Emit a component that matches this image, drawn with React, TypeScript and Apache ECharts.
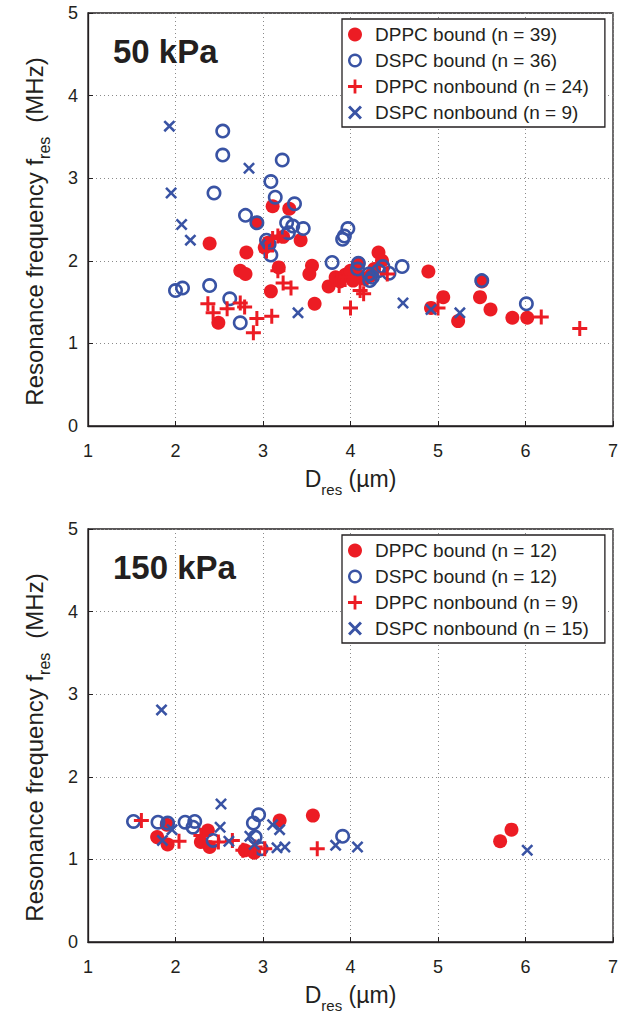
import React, { useEffect, useRef } from 'react';
import * as echarts from 'echarts';

// ---------- data (D_res in µm, f_res in MHz) ----------
const xTicks = [1, 2, 3, 4, 5, 6, 7];
const yTicks = [0, 1, 2, 3, 4, 5];

const panelTitles = ['50 kPa', '150 kPa'];

const names50 = [
  'DPPC bound (n = 39)',
  'DSPC bound (n = 36)',
  'DPPC nonbound (n = 24)',
  'DSPC nonbound (n = 9)',
];
const names150 = [
  'DPPC bound (n = 12)',
  'DSPC bound (n = 12)',
  'DPPC nonbound (n = 9)',
  'DSPC nonbound (n = 15)',
];

const dppcBound50 = [
  [2.39, 2.21], [2.81, 2.10], [2.74, 1.88], [2.80, 1.84], [2.49, 1.25], [2.93, 2.46],
  [3.11, 2.66], [3.30, 2.63], [3.02, 2.16], [3.23, 2.29], [3.43, 2.25], [3.18, 1.92],
  [3.09, 1.63], [3.56, 1.94], [3.53, 1.84], [3.59, 1.48], [3.75, 1.69], [3.94, 1.83],
  [4.08, 1.82], [4.09, 1.97], [4.32, 2.10], [4.36, 2.00], [4.23, 1.82], [4.89, 1.87],
  [5.06, 1.56], [4.92, 1.43], [5.23, 1.27], [5.50, 1.75], [5.48, 1.56], [5.60, 1.41],
  [5.85, 1.31], [6.02, 1.31], [3.06, 2.22], [3.83, 1.80], [4.00, 1.88], [4.16, 1.78],
  [4.27, 1.90], [3.88, 1.75], [4.03, 1.76],
];
const dspcBound50 = [
  [2.54, 3.57], [2.54, 3.28], [2.44, 2.82], [3.22, 3.22], [3.09, 2.96], [3.14, 2.77],
  [3.36, 2.69], [2.80, 2.55], [2.93, 2.46], [3.27, 2.46], [3.29, 2.34], [3.46, 2.39],
  [3.04, 2.25], [3.09, 2.07], [3.97, 2.39], [3.91, 2.26], [3.79, 1.98], [4.09, 1.97],
  [4.21, 1.84], [2.00, 1.64], [2.08, 1.67], [2.39, 1.70], [2.62, 1.54], [2.74, 1.25],
  [4.22, 1.76], [4.37, 1.93], [4.44, 1.85], [4.59, 1.93], [5.50, 1.76], [6.01, 1.48],
  [4.08, 1.90], [4.25, 1.80], [3.07, 2.20], [3.34, 2.42], [4.32, 1.88], [3.93, 2.30],
];
const dppcNonbound50 = [
  [2.37, 1.48], [2.43, 1.37], [2.59, 1.42], [2.74, 1.49], [2.79, 1.44], [2.93, 1.30],
  [2.89, 1.13], [3.10, 1.33], [3.17, 1.88], [3.23, 1.73], [3.32, 1.67], [3.04, 2.12],
  [3.11, 2.27], [3.85, 1.78], [3.87, 1.70], [4.00, 1.43], [4.11, 1.64], [4.15, 1.60],
  [4.42, 1.84], [5.00, 1.43], [6.18, 1.32], [6.62, 1.18], [3.17, 2.30], [3.98, 1.80],
];
const dspcNonbound50 = [
  [1.93, 3.63], [1.95, 2.82], [2.07, 2.44], [2.17, 2.25], [2.84, 3.12],
  [3.40, 1.37], [4.60, 1.49], [4.92, 1.41], [5.25, 1.37],
];

const dppcBound150 = [
  [1.79, 1.27], [1.90, 1.42], [1.91, 1.18], [2.29, 1.21], [2.37, 1.35], [2.39, 1.15],
  [2.79, 1.11], [2.90, 1.08], [3.19, 1.47], [3.57, 1.53], [5.71, 1.22], [5.84, 1.36],
];
const dspcBound150 = [
  [1.52, 1.46], [1.80, 1.45], [1.91, 1.44], [2.11, 1.45], [2.22, 1.46], [2.20, 1.39],
  [2.43, 1.23], [2.89, 1.44], [2.95, 1.54], [2.91, 1.27], [2.98, 1.13], [3.91, 1.28],
];
const dppcNonbound150 = [
  [1.61, 1.47], [2.04, 1.22], [2.29, 1.29], [2.49, 1.21], [2.65, 1.23], [2.77, 1.11],
  [2.91, 1.15], [3.02, 1.13], [3.62, 1.13],
];
const dspcNonbound150 = [
  [1.84, 2.81], [1.85, 1.23], [1.96, 1.36], [2.52, 1.67], [2.51, 1.39], [2.61, 1.22],
  [2.85, 1.28], [3.11, 1.42], [3.19, 1.36], [3.16, 1.14], [3.25, 1.15], [3.83, 1.17],
  [4.08, 1.15], [6.02, 1.11], [2.90, 1.18],
];

// ---------- styles ----------
const RED = '#EC1C24';
const BLUE = '#3953A4';
const INK = '#231F20';
const FONT = 'Arial, "Liberation Sans", Helvetica, sans-serif';

const PLUS = 'path://M4,0H6V4H10V6H6V10H4V6H0V4H4Z';
const CROSS = 'path://M0,1.5L1.5,0L5,3.5L8.5,0L10,1.5L6.5,5L10,8.5L8.5,10L5,6.5L1.5,10L0,8.5L3.5,5Z';
const RING = 'path://M5,0A5,5 0 1,1 4.999,0Z M5,1.75A3.25,3.25 0 1,0 5.001,1.75Z';

type Kind = 'dot' | 'ring' | 'plus' | 'cross';

const kindStyle: Record<Kind, { symbol: string; size: number; color: string }> = {
  dot: { symbol: 'circle', size: 14, color: RED },
  ring: { symbol: RING, size: 15, color: BLUE },
  plus: { symbol: PLUS, size: 15, color: RED },
  cross: { symbol: CROSS, size: 12, color: BLUE },
};

function makeSeries(name: string, data: number[][], kind: Kind, idx: number) {
  const k = kindStyle[kind];
  return {
    type: 'scatter',
    name,
    data,
    xAxisIndex: idx,
    yAxisIndex: idx,
    symbol: k.symbol,
    symbolSize: k.size,
    symbolKeepAspect: true,
    itemStyle: { color: k.color, opacity: 1 },
    emphasis: { disabled: true },
    z: 3,
  };
}

const gridBoxes = [
  { left: 88, top: 13, width: 525, height: 413 },
  { left: 88, top: 529, width: 525, height: 413 },
];

export default function App() {
  const ref = useRef<HTMLDivElement>(null);

  useEffect(() => {
    document.body.style.margin = '0';
    if (!ref.current) return;
    const chart = echarts.init(ref.current, undefined, { renderer: 'svg' });

    const xName = '{m|D}{s|res}{m| (µm)}';
    const yName = '{m|Resonance frequency f}{s|res}{u|(MHz)}';
    const xRich = {
      m: { fontSize: 23, color: INK, fontFamily: FONT, lineHeight: 26 },
      s: { fontSize: 15, color: INK, fontFamily: FONT, lineHeight: 15, padding: [20, 0, 0, 0] },
    };
    const yRich = {
      m: { fontSize: 24, color: INK, fontFamily: FONT, lineHeight: 27 },
      u: { fontSize: 24, color: INK, fontFamily: FONT, lineHeight: 27, padding: [0, 24, 0, 14] },
      s: { fontSize: 16, color: INK, fontFamily: FONT, lineHeight: 16, padding: [20, 0, 0, 0] },
    };

    const legendBase = {
      orient: 'vertical',
      left: 342,
      backgroundColor: '#fff',
      borderColor: INK,
      borderWidth: 1.3,
      borderRadius: 0,
      padding: [6, 16, 5, 6],
      itemWidth: 30,
      itemHeight: 14,
      itemGap: 7,
      selectedMode: false,
      textStyle: { fontSize: 19, color: INK, fontFamily: FONT, lineHeight: 18 },
      z: 10,
    };

    const option: any = {
      animation: false,
      backgroundColor: '#fff',
      textStyle: { fontFamily: FONT },
      title: panelTitles.map((t, i) => ({
        text: t,
        left: 113,
        top: i === 0 ? 35 : 551,
        padding: 0,
        textStyle: { fontSize: 33, fontWeight: 'bold', color: INK, fontFamily: FONT },
      })),
      grid: gridBoxes.map((g) => ({
        ...g,
        show: true,
        borderColor: INK,
        borderWidth: 1.3,
        backgroundColor: 'transparent',
        containLabel: false,
      })),
      legend: [
        { ...legendBase, top: 19, data: names50 },
        { ...legendBase, top: 535, data: names150 },
      ],
      xAxis: [0, 1].map((i) => ({
        type: 'value',
        gridIndex: i,
        min: xTicks[0],
        max: xTicks[xTicks.length - 1],
        interval: 1,
        name: xName,
        nameLocation: 'middle',
        nameGap: 40,
        nameTextStyle: { rich: xRich },
        axisLine: { show: true, onZero: false, lineStyle: { color: INK, width: 1.3 } },
        axisTick: { show: true, inside: true, length: 5, lineStyle: { color: INK } },
        axisLabel: { fontSize: 18, color: INK, margin: 16, fontFamily: FONT },
        splitLine: { show: true, lineStyle: { type: [1, 3], color: '#8a8a8a', width: 1 } },
      })),
      yAxis: [0, 1].map((i) => ({
        type: 'value',
        gridIndex: i,
        min: yTicks[0],
        max: yTicks[yTicks.length - 1],
        interval: 1,
        name: yName,
        nameLocation: 'middle',
        nameRotate: 90,
        nameGap: 40,
        nameTextStyle: { rich: yRich },
        axisLine: { show: true, onZero: false, lineStyle: { color: INK, width: 1.3 } },
        axisTick: { show: true, inside: true, length: 5, lineStyle: { color: INK } },
        axisLabel: { fontSize: 18, color: INK, margin: 10, fontFamily: FONT },
        splitLine: { show: true, lineStyle: { type: [1, 3], color: '#8a8a8a', width: 1 } },
      })),
      series: [
        makeSeries(names50[0], dppcBound50, 'dot', 0),
        makeSeries(names50[1], dspcBound50, 'ring', 0),
        makeSeries(names50[2], dppcNonbound50, 'plus', 0),
        makeSeries(names50[3], dspcNonbound50, 'cross', 0),
        makeSeries(names150[0], dppcBound150, 'dot', 1),
        makeSeries(names150[1], dspcBound150, 'ring', 1),
        makeSeries(names150[2], dppcNonbound150, 'plus', 1),
        makeSeries(names150[3], dspcNonbound150, 'cross', 1),
      ],
    };

    chart.setOption(option);
    return () => chart.dispose();
  }, []);

  return <div ref={ref} style={{ width: 629, height: 1015 }} />;
}
